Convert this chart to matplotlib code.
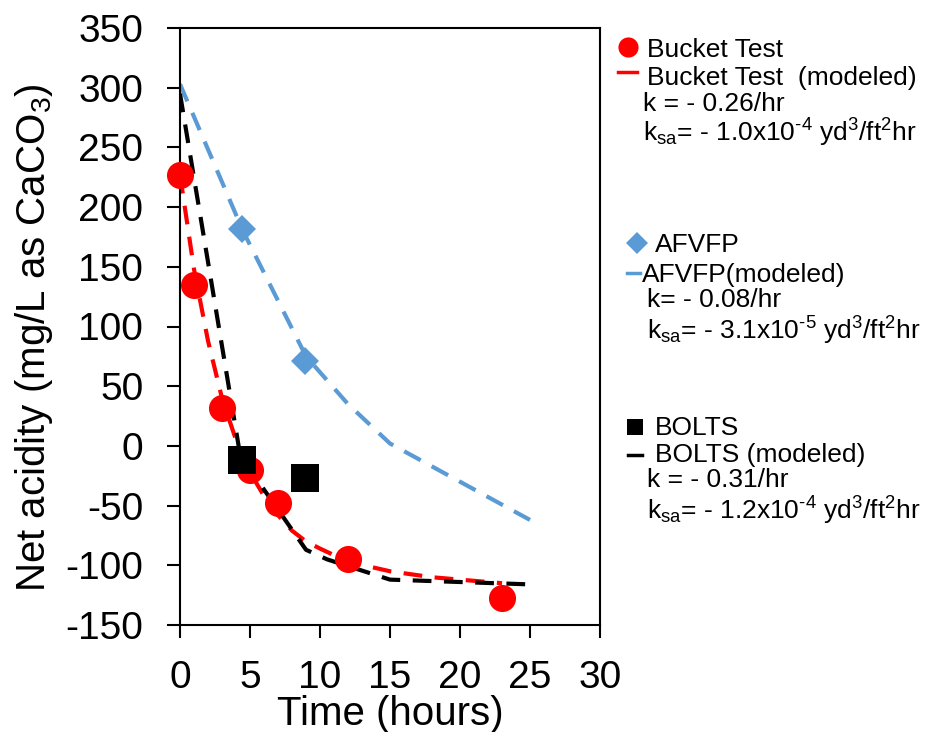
import matplotlib
matplotlib.use("Agg")
import matplotlib.pyplot as plt
from matplotlib.lines import Line2D

plt.rcParams['font.family'] = ['Liberation Sans', 'DejaVu Sans']
plt.rcParams['mathtext.fontset'] = 'custom'
plt.rcParams['mathtext.rm'] = 'Liberation Sans'
plt.rcParams['mathtext.it'] = 'Liberation Sans:italic'
plt.rcParams['axes.unicode_minus'] = False

# Measured data
bucket_t = [0, 1, 3, 5, 7, 12, 23]
bucket_v = [227, 135, 32, -20, -48, -95, -127]

afvfp_t = [4.4, 8.9]
afvfp_v = [182, 71]

bolts_t = [4.4, 8.9]
bolts_v = [-12, -27]

# Modeled curves
bucket_mod_t = [0, 1, 2, 3, 4, 5, 6, 7, 8, 9, 10, 12, 15, 18, 20, 23]
bucket_mod_v = [227, 148, 88, 40, 5, -22, -42, -58, -71, -80, -86, -97, -105, -110, -112, -115]

afvfp_mod_t = [0, 4.5, 9, 12, 15, 20, 25]
afvfp_mod_v = [303, 180, 75, 35, 2, -30, -62]

bolts_mod_t = [0, 4.3, 9, 10.5, 15, 20, 25]
bolts_mod_v = [295, -8, -87, -95, -112, -114, -116]

xticks = [0, 5, 10, 15, 20, 25, 30]
yticks = [-150, -100, -50, 0, 50, 100, 150, 200, 250, 300, 350]

RED = '#FF0000'
BLUE = '#5B9BD5'
BLACK = '#000000'

W, H = 949, 732
fig = plt.figure(figsize=(W / 100, H / 100), dpi=100)
ax = fig.add_axes([180 / W, 1 - 625 / H, 420 / W, 597 / H])

dash = (4.5, 3)
ax.plot(afvfp_mod_t, afvfp_mod_v, color=BLUE, lw=3, dashes=dash, zorder=2)
ax.plot(bucket_mod_t, bucket_mod_v, color=RED, lw=3, dashes=dash, zorder=2)
ax.plot(bolts_mod_t, bolts_mod_v, color=BLACK, lw=3, dashes=dash, zorder=2)

ax.plot(bucket_t, bucket_v, 'o', color=RED, ms=19.5, mew=0, zorder=3, clip_on=False)
ax.plot(afvfp_t, afvfp_v, 'D', color=BLUE, ms=14, mew=0, zorder=4, clip_on=False)
ax.plot(bolts_t, bolts_v, 's', color=BLACK, ms=20, mew=0, zorder=5, clip_on=False)

ax.set_xlim(0, 30)
ax.set_ylim(-150, 350)
ax.set_xticks(xticks)
ax.set_yticks(yticks)
for s in ax.spines.values():
    s.set_linewidth(1.5)
ax.tick_params(direction='out', length=9.4, width=1.5, pad=17, labelsize=28)
ax.tick_params(axis='x', pad=16)

fig.text(34 / W, 1 - 338 / H, 'Net acidity (mg/L as CaCO$_\\mathregular{3}$)',
         rotation=90, ha='center', va='center', fontsize=29)
fig.text(390 / W, 1 - 725 / H, 'Time (hours)', ha='center', va='baseline', fontsize=29)


# Legend block
def fx(px):
    return px / W


def fy(py):
    return 1 - py / H


def label(px, py, s):
    fig.text(fx(px), fy(py), s, ha='left', va='baseline', fontsize=19)


def marker(px, py, m, color, ms):
    fig.add_artist(Line2D([fx(px)], [fy(py)], marker=m, color=color, ms=ms,
                          mew=0, linestyle='none', transform=fig.transFigure))


def dash_line(x0, x1, py, color):
    fig.add_artist(Line2D([fx(x0), fx(x1)], [fy(py), fy(py)], color=color, lw=2.5,
                          transform=fig.transFigure))


def ksa_text(coef, exp):
    return ('k$_\\mathregular{sa}$= - ' + coef + 'x10$^\\text{' + exp + '}$'
            ' yd$^\\mathregular{3}$/ft$^\\mathregular{2}$hr')


marker(628, 47, 'o', RED, 14.5)
label(647, 57, 'Bucket Test')
dash_line(618, 637, 72, RED)
label(647, 85, 'Bucket Test  (modeled)')
label(643, 111, 'k = - 0.26/hr')
label(643, 142, ksa_text('1.0', '-4'))

marker(637, 243, 'D', BLUE, 11)
label(655, 252, 'AFVFP')
dash_line(627, 640, 273, BLUE)
label(642, 282, 'AFVFP(modeled)')
label(647, 307, 'k= - 0.08/hr')
label(647, 340, ksa_text('3.1', '-5'))

marker(635, 427, 's', BLACK, 11)
label(655, 435, 'BOLTS')
dash_line(628, 642, 455, BLACK)
label(655, 462, 'BOLTS (modeled)')
label(647, 487, 'k = - 0.31/hr')
label(647, 520, ksa_text('1.2', '-4'))

fig.savefig('out.png', dpi=100)
